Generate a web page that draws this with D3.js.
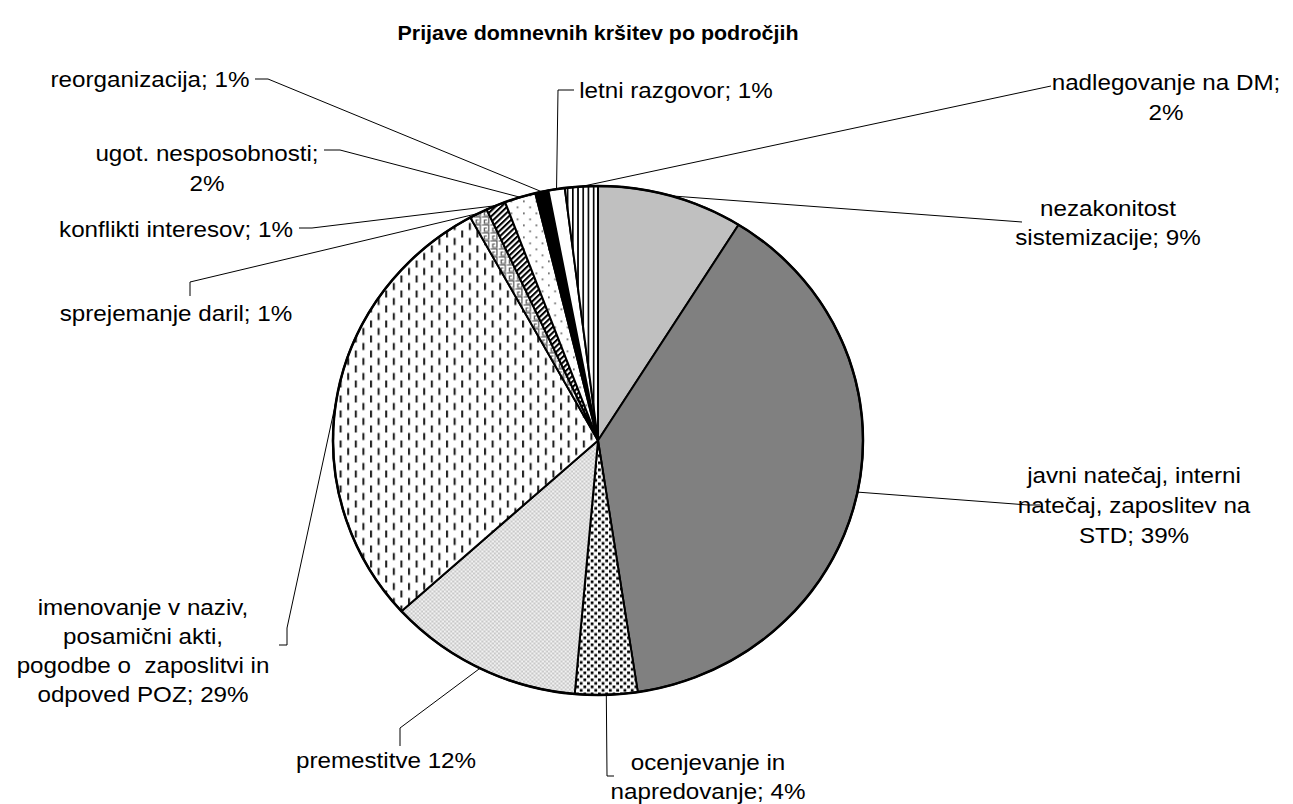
<!DOCTYPE html>
<html>
<head>
<meta charset="utf-8">
<script src="https://cdn.jsdelivr.net/npm/d3@7"></script>
<style>
  html, body { margin: 0; background: #fff; }
  svg { display: block; }
</style>
</head>
<body>
<svg id="chart" width="1293" height="804"></svg>
<script>
// chart data (share of reports, clockwise from 12 o'clock)
const title = "Prijave domnevnih kršitev po področjih";
const categories = [
    "nezakonitost sistemizacije",
    "javni natečaj, interni natečaj, zaposlitev na STD",
    "ocenjevanje in napredovanje",
    "premestitve",
    "imenovanje v naziv, posamični akti, pogodbe o zaposlitvi in odpoved POZ",
    "sprejemanje daril",
    "konflikti interesov",
    "ugot. nesposobnosti",
    "reorganizacija",
    "letni razgovor",
    "nadlegovanje na DM",
];
const values = [8.9, 38.7, 3.8, 11.9, 28.7, 1.1, 1.2, 1.9, 0.8, 1.0, 2.0];
const labelLines = [
    ["nezakonitost", "sistemizacije; 9%"],
    ["javni natečaj, interni", "natečaj, zaposlitev na", "STD; 39%"],
    ["ocenjevanje in", "napredovanje; 4%"],
    ["premestitve 12%"],
    ["imenovanje v naziv,", "posamični akti,", "pogodbe o  zaposlitvi in", "odpoved POZ; 29%"],
    ["sprejemanje daril; 1%"],
    ["konflikti interesov; 1%"],
    ["ugot. nesposobnosti;", "2%"],
    ["reorganizacija; 1%"],
    ["letni razgovor; 1%"],
    ["nadlegovanje na DM;", "2%"],
];
const fills = ["#c0c0c0", "#808080", "url(#p-squares)", "url(#p-grid)", "url(#p-dashes)",
    "url(#p-key)", "url(#p-diag)", "url(#p-dots)", "#000", "#fff", "url(#p-vert)"];

// label placement: text centre x, line centres y, leader bend points
const labelLayout = [
    { x: 1108, ys: [208, 237], leader: [[1022, 222]] },
    { x: 1134, ys: [475, 505, 535], leader: [[1040, 505], [1028, 505]] },
    { x: 708, ys: [762, 791], leader: [[614, 776], [607, 776]] },
    { x: 386, ys: [760], leader: [[400, 746], [400, 728]] },
    { x: 143, ys: [607, 636, 665, 694], leader: [[279, 645], [287, 645], [287, 628]] },
    { x: 176, ys: [313], leader: [[190, 296], [190, 282]] },
    { x: 176, ys: [229], leader: [[299, 228], [312, 228]] },
    { x: 207, ys: [153, 183], leader: [[324, 150], [340, 150]] },
    { x: 150, ys: [79], leader: [[255, 79], [268, 79]] },
    { x: 676, ys: [90], leader: [[574, 90], [558, 90]] },
    { x: 1166, ys: [82, 112], leader: [[1051, 86]] },
];

const W = 1293, H = 804;
const cx = 598, cy = 440.5, rx = 265, ry = 254.5;
const font = "'Liberation Sans', Arial, sans-serif";

const svg = d3.select("#chart");
const defs = svg.append("defs");

function pattern(id, w, h, bg) {
    const p = defs.append("pattern").attr("id", id)
        .attr("patternUnits", "userSpaceOnUse")
        .attr("width", w).attr("height", h);
    p.append("rect").attr("width", w).attr("height", h).attr("fill", bg);
    return p;
}

// ocenjevanje: staggered black squares
const sq = pattern("p-squares", 7, 7, "#fff");
sq.append("rect").attr("x", 0).attr("y", 0).attr("width", 2.7).attr("height", 2.7).attr("fill", "#000");
sq.append("rect").attr("x", 3.5).attr("y", 3.5).attr("width", 2.7).attr("height", 2.7).attr("fill", "#000");

// premestitve: light grey fine grid
const gr = pattern("p-grid", 4, 4, "#f2f2f2");
gr.append("rect").attr("width", 2).attr("height", 2).attr("fill", "#c8c8c8");
gr.append("rect").attr("x", 2).attr("y", 2).attr("width", 2).attr("height", 2).attr("fill", "#c8c8c8");

// imenovanje: short vertical dashes
const da = pattern("p-dashes", 14.6, 15, "#fff");
da.append("rect").attr("x", 0).attr("y", 0).attr("width", 2).attr("height", 7).attr("fill", "#222");
da.append("rect").attr("x", 7.3).attr("y", 7.5).attr("width", 2).attr("height", 7).attr("fill", "#222");

// sprejemanje daril: key pattern
const ky = pattern("p-key", 8, 8, "#fff");
ky.append("path").attr("d", "M0.5,0.5H7V7H3V3.5H5.2").attr("fill", "none")
    .attr("stroke", "#555").attr("stroke-width", 1.2);

// konflikti: diagonal stripes
const dg = pattern("p-diag", 4, 4, "#fff");
dg.attr("patternTransform", "rotate(45)");
dg.append("rect").attr("width", 2).attr("height", 4).attr("fill", "#000");

// ugot. nesposobnosti: sparse dots
const dt = pattern("p-dots", 12, 12, "#fff");
dt.append("rect").attr("x", 0).attr("y", 0).attr("width", 1.6).attr("height", 1.6).attr("fill", "#555");
dt.append("rect").attr("x", 6).attr("y", 6).attr("width", 1.6).attr("height", 1.6).attr("fill", "#555");

// nadlegovanje: vertical lines
const vl = pattern("p-vert", 5, 5, "#fff");
vl.append("rect").attr("width", 1.6).attr("height", 5).attr("fill", "#000");

svg.append("rect").attr("width", W).attr("height", H).attr("fill", "#fff");

// title
svg.append("text")
    .attr("transform", `translate(${cx},40) scale(1.02,1)`)
    .attr("text-anchor", "middle")
    .attr("font-family", font).attr("font-size", 21).attr("font-weight", "bold")
    .text(title);

// pie (slightly wider than tall, as in the picture)
const pie = d3.pie().sort(null).value((d) => d)(values);
const arc = d3.arc().innerRadius(0).outerRadius(ry);

const g = svg.append("g")
    .attr("transform", `translate(${cx},${cy}) scale(${rx / ry},1)`);

g.selectAll("path.slice")
    .data(pie)
    .join("path")
    .attr("class", "slice")
    .attr("d", arc)
    .attr("fill", (d, i) => fills[i])
    .attr("stroke", "#000")
    .attr("stroke-width", 2)
    .attr("stroke-linejoin", "round")
    .attr("vector-effect", "non-scaling-stroke");

g.append("ellipse")
    .attr("rx", ry).attr("ry", ry)
    .attr("fill", "none")
    .attr("stroke", "#000")
    .attr("stroke-width", 2.5)
    .attr("vector-effect", "non-scaling-stroke");

// leader lines
const edgePoint = (d) => {
    const a = (d.startAngle + d.endAngle) / 2;
    return [cx + rx * Math.sin(a), cy - ry * Math.cos(a)];
};
const line = d3.line();
svg.append("g")
    .selectAll("path")
    .data(pie)
    .join("path")
    .attr("d", (d, i) => line([...labelLayout[i].leader, edgePoint(d)]))
    .attr("fill", "none")
    .attr("stroke", "#000")
    .attr("stroke-width", 1);

// labels
const lg = svg.append("g")
    .attr("font-family", font)
    .attr("font-size", 22)
    .attr("fill", "#000");
labelLines.forEach((lines, i) => {
    const lay = labelLayout[i];
    lines.forEach((t, j) => {
        lg.append("text")
            .attr("transform", `translate(${lay.x},${lay.ys[j] + 8}) scale(1.1,1)`)
            .attr("text-anchor", "middle")
            .style("white-space", "pre")
            .text(t);
    });
});
</script>
</body>
</html>
